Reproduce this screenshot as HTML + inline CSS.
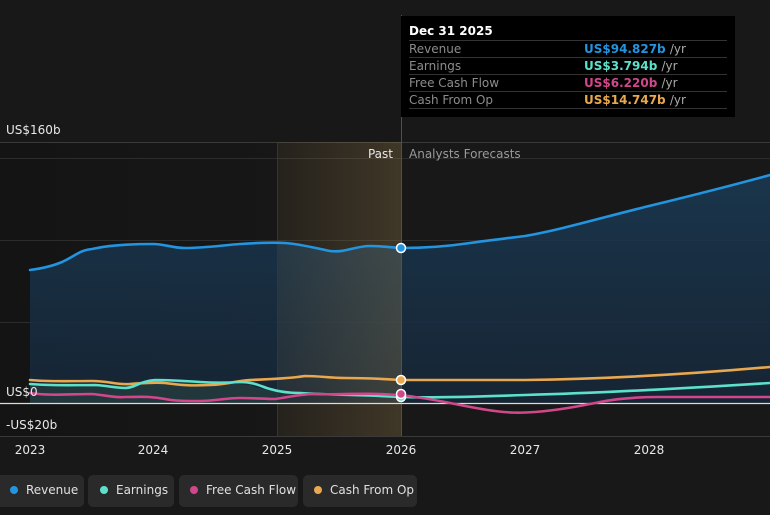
<!DOCTYPE html>
<html><head><style>
body{margin:0;background:#181818;width:770px;height:515px;overflow:hidden;font-family:"DejaVu Sans","Liberation Sans",sans-serif}
</style></head><body>
<svg width="770" height="515" xmlns="http://www.w3.org/2000/svg" style="position:absolute;left:0;top:0">
<defs>
<linearGradient id="pastbg" x1="0" x2="1"><stop offset="0" stop-color="#141414"/><stop offset="1" stop-color="#181818"/></linearGradient>
<linearGradient id="gold" x1="0" x2="1"><stop offset="0" stop-color="#c9a35a" stop-opacity="0.08"/><stop offset="1" stop-color="#c9a35a" stop-opacity="0.22"/></linearGradient>
<linearGradient id="revf" x1="0" y1="0" x2="0" y2="1"><stop offset="0" stop-color="#1a3a55" stop-opacity="0.85"/><stop offset="1" stop-color="#16283a" stop-opacity="0.8"/></linearGradient>
</defs>
<rect x="0" y="0" width="770" height="515" fill="#181818"/>
<rect x="0" y="142" width="401" height="294" fill="url(#pastbg)"/>
<g stroke="#2c2c2c" stroke-width="1">
<line x1="0" y1="142.5" x2="770" y2="142.5" stroke="#3a3a3a"/>
<line x1="0" y1="158.5" x2="770" y2="158.5"/>
<line x1="0" y1="240.5" x2="770" y2="240.5"/>
<line x1="0" y1="322.5" x2="770" y2="322.5"/>
<line x1="0" y1="436.5" x2="770" y2="436.5" stroke="#3a3a3a"/>
</g>
<path d="M30,270 C45,268 55,265 62,262 C75,256 80,250 92,249 C110,245 135,244 153,244 C165,244 172,248 185,248 C205,248 225,245 240,244 C255,243 270,242 285,243 C300,244 315,248 330,251 C345,253 355,246 370,246 C385,246 395,248 401,248 C430,248 450,246 470,243 C490,240 510,238 525,236 C560,230 600,218 649,206 C690,196 730,186 770,175 L770,403 L30,403 Z" fill="url(#revf)"/>
<path d="M30,384 C60,386 90,385 120,385 C140,378 170,382 185,382 C210,383 230,383 250,385 C265,390 270,391 277,391 L277,403 L30,403 Z" fill="#2e4a44" opacity="0.5"/>
<rect x="277" y="142" width="124" height="294" fill="url(#gold)"/>
<line x1="277.5" y1="142" x2="277.5" y2="436" stroke="#3a3528"/>
<line x1="401.5" y1="15" x2="401.5" y2="436" stroke="#5a5038"/>
<line x1="0" y1="403.5" x2="770" y2="403.5" stroke="#dcdcdc" stroke-width="1.2"/>
<g fill="none" stroke-width="2.6" stroke-linecap="round">
<path d="M30,270 C45,268 55,265 62,262 C75,256 80,250 92,249 C110,245 135,244 153,244 C165,244 172,248 185,248 C205,248 225,245 240,244 C255,243 270,242 285,243 C300,244 315,248 330,251 C345,253 355,246 370,246 C385,246 395,248 401,248 C430,248 450,246 470,243 C490,240 510,238 525,236 C560,230 600,218 649,206 C690,196 730,186 770,175" stroke="#2394df"/>
<path d="M30,380 C50,382 70,381 92,381 C110,381 115,385 130,384 C145,383 155,382 165,383 C180,385 190,386 210,385 C230,384 235,381 250,380 C270,379 285,379 305,376 C320,376 330,378 345,378 C365,378 385,379 401,380 L525,380 C600,379 680,375 770,367" stroke="#e9a84f"/>
<path d="M30,384 C55,386 75,385 95,385 C110,386 115,388 125,388 C135,388 140,381 155,380 C170,380 185,381 200,382 C215,383 225,383 240,382 C255,382 262,387 270,389 C280,392 290,393 300,393 C330,395 370,395 401,397 C430,398 470,397 525,395 C600,393 690,388 770,383" stroke="#5ce1cc"/>
<path d="M30,393 C50,396 70,394 92,394 C105,395 115,398 125,397 C140,397 150,396 165,399 C175,401 185,401 200,401 C215,401 225,398 240,398 C255,398 265,399 275,399 C290,397 300,394 315,394 C340,395 360,393 380,394 C395,395 405,395 415,397 C440,400 470,408 495,411 C510,413 520,413 535,412 C560,410 580,406 600,402 C620,398 640,397 660,397 L770,397" stroke="#d2478b"/>
</g>
<g stroke="#fff" stroke-width="1.5">
<circle cx="401" cy="248" r="4.5" fill="#2394df"/>
<circle cx="401" cy="380" r="4.5" fill="#e9a84f"/>
<circle cx="401" cy="397" r="4.5" fill="#5ce1cc"/>
<circle cx="401" cy="394" r="4.5" fill="#d2478b"/>
</g>
<g font-size="12" fill="#e8e8e8">
<text x="6" y="134">US$160b</text>
<text x="6" y="396">US$0</text>
<text x="6" y="429">-US$20b</text>
<text x="393" y="158" text-anchor="end">Past</text>
<text x="409" y="158" fill="#9a9a9a">Analysts Forecasts</text>
<g text-anchor="middle"><text x="30" y="454">2023</text><text x="153" y="454">2024</text><text x="277" y="454">2025</text><text x="401" y="454">2026</text><text x="525" y="454">2027</text><text x="649" y="454">2028</text></g>
</g>
<rect x="401" y="16" width="334" height="101" fill="#000"/>
<g font-size="12">
<text x="409" y="35" fill="#fff" font-weight="bold">Dec 31 2025</text>
<g stroke="#333"><line x1="409" y1="40.5" x2="727" y2="40.5"/><line x1="409" y1="57.5" x2="727" y2="57.5"/><line x1="409" y1="74.5" x2="727" y2="74.5"/><line x1="409" y1="91.5" x2="727" y2="91.5"/><line x1="409" y1="108.5" x2="727" y2="108.5"/></g>
<g fill="#8c8c8c"><text x="409" y="53">Revenue</text><text x="409" y="70">Earnings</text><text x="409" y="87">Free Cash Flow</text><text x="409" y="104">Cash From Op</text></g>
<text x="584" y="53" fill="#2394df" font-weight="bold">US$94.827b <tspan fill="#aaa" font-weight="normal">/yr</tspan></text>
<text x="584" y="70" fill="#5ce1cc" font-weight="bold">US$3.794b <tspan fill="#aaa" font-weight="normal">/yr</tspan></text>
<text x="584" y="87" fill="#d2478b" font-weight="bold">US$6.220b <tspan fill="#aaa" font-weight="normal">/yr</tspan></text>
<text x="584" y="104" fill="#e9a84f" font-weight="bold">US$14.747b <tspan fill="#aaa" font-weight="normal">/yr</tspan></text>
</g>
<g font-size="12" fill="#e0e0e0">
<rect x="-10" y="475" width="94" height="32" rx="5" fill="#2a2a2a"/>
<circle cx="14" cy="490" r="4" fill="#2394df"/><text x="26" y="494">Revenue</text>
<rect x="88" y="475" width="86" height="32" rx="5" fill="#2a2a2a"/>
<circle cx="104" cy="490" r="4" fill="#5ce1cc"/><text x="116" y="494">Earnings</text>
<rect x="179" y="475" width="119" height="32" rx="5" fill="#2a2a2a"/>
<circle cx="194" cy="490" r="4" fill="#d2478b"/><text x="206" y="494">Free Cash Flow</text>
<rect x="303" y="475" width="114" height="32" rx="5" fill="#2a2a2a"/>
<circle cx="318" cy="490" r="4" fill="#e9a84f"/><text x="330" y="494">Cash From Op</text>
</g>
</svg>
</body></html>
